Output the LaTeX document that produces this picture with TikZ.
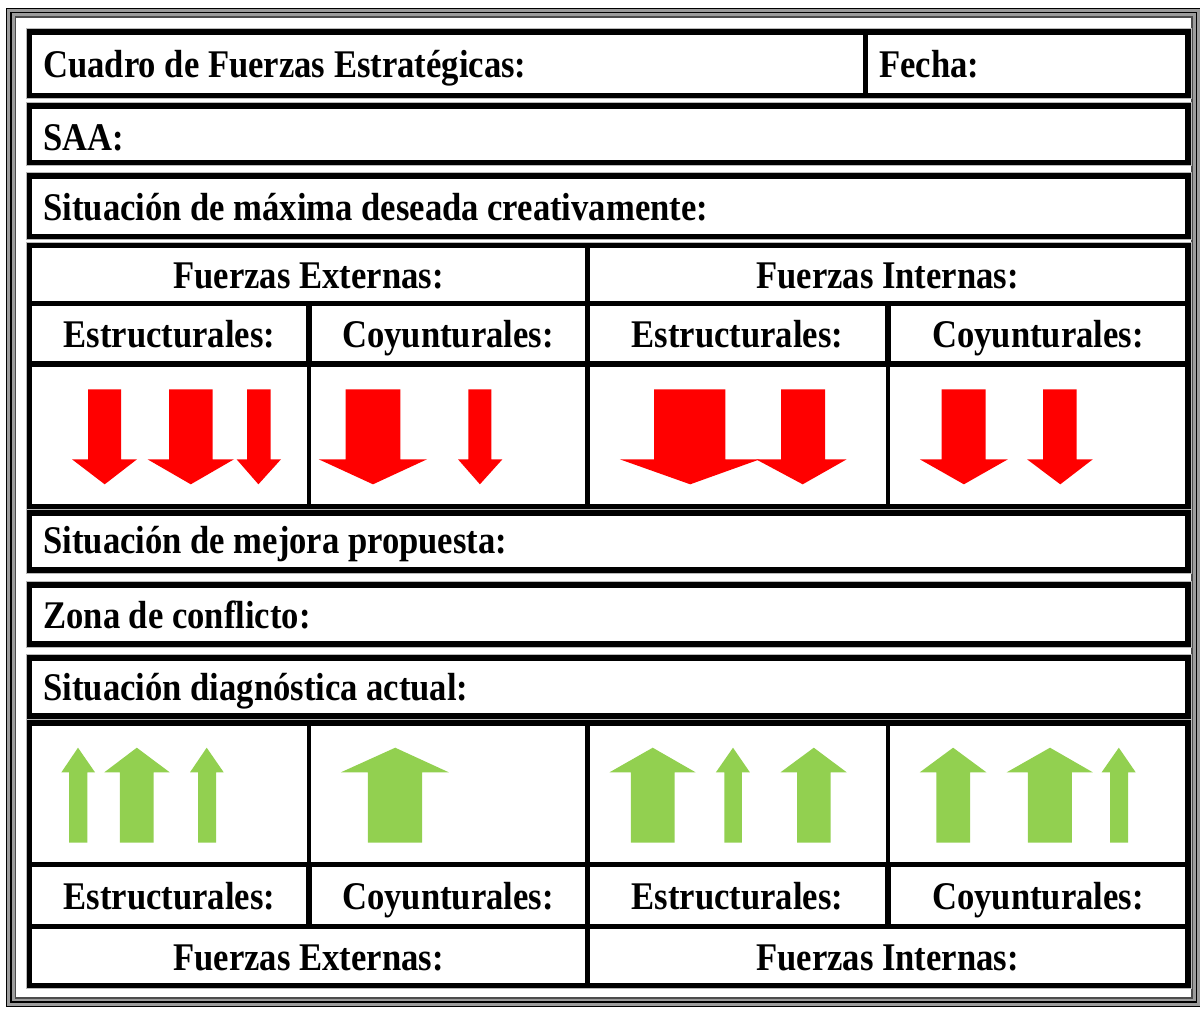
\documentclass[tikz,border=0pt]{standalone}
\usepackage{fontspec}
\setmainfont{Liberation Serif}[FakeStretch=0.883]
\usepackage{xcolor}
\definecolor{forcered}{HTML}{FF0000}
\definecolor{forcegreen}{HTML}{92D050}
\definecolor{framegray}{HTML}{9C9C9C}

\begin{document}
\begin{tikzpicture}[x=0.5pt,y=-0.5pt,
  box/.style={line width=2.75pt},
  cellrule/.style={line width=2pt},
  boxshade/.style={draw=gray!55,line width=0.5pt},
  formtext/.style={inner sep=0pt,font=\fontsize{19.6pt}{22pt}\selectfont\bfseries}]

\useasboundingbox (0,0) rectangle (1200,1008);

\draw[framegray,line width=5pt] (11,12.5) rectangle (1196.5,1002);
\draw[line width=0.7pt] (6.7,8.2) rectangle (1200.8,1006.3);
\draw[line width=0.7pt] (11,12.5) rectangle (1196.5,1002);
\draw[black!70,line width=0.8pt] (15.3,16.8) rectangle (1192.2,997.7);

\foreach \t/\b in {32/95.5,106/162.5,176/236.5,245.5/506.5,513/570,585/644,658/716,723/985.5} {
  \draw[boxshade] (26.2,\t-3.3) rectangle (1191.3,\b+3.3);
  \draw[box] (29.5,\t) rectangle (1188,\b);
}

\draw[box] (865.5,32) -- (865.5,95.5);

\draw[box] (29.5,303.5) -- (1188,303.5) (29.5,364) -- (1188,364);
\draw[box] (587.5,245.5) -- (587.5,506.5);
\draw[box] (309,303.5) -- (309,364) (888,303.5) -- (888,364);
\draw[cellrule] (309,364) -- (309,506.5) (888,364) -- (888,506.5);

\draw[box] (29.5,864.5) -- (1188,864.5) (29.5,926.5) -- (1188,926.5);
\draw[box] (587.5,723) -- (587.5,985.5);
\draw[cellrule] (309,723) -- (309,864.5) (888,723) -- (888,864.5);
\draw[box] (309,864.5) -- (309,926.5) (888,864.5) -- (888,926.5);

\node[formtext,anchor=base west] (title) at (43,77) {Cuadro de Fuerzas Estratégicas:};
\node[formtext,anchor=base west] (fecha) at (879,77) {Fecha:};
\node[formtext,anchor=base west] (saa) at (43,150) {SAA:};
\node[formtext,anchor=base west] (maxima) at (43,220) {Situación de máxima deseada creativamente:};

\node[formtext,anchor=base] (extA) at (308.5,288) {Fuerzas Externas:};
\node[formtext,anchor=base] (intA) at (887.5,288) {Fuerzas Internas:};
\node[formtext,anchor=base] (estA1) at (169.5,347) {Estructurales:};
\node[formtext,anchor=base] (coyA1) at (448,347) {Coyunturales:};
\node[formtext,anchor=base] (estA2) at (737.5,347) {Estructurales:};
\node[formtext,anchor=base] (coyA2) at (1038,347) {Coyunturales:};

\foreach \sl/\sr/\hl/\hr/\tx in {88/121/72/137/104.7,169/212.6/147.5/234/190.8,247/270.6/236.6/281/258.4,
    345.7/400.4/318.7/427/373,468.4/491.3/458/502.4/479.9,654.2/725.4/619.8/759.9/690.2,
    781/825/756/846.7/802.7,941.6/985.7/919.8/1007.9/963.9,1043/1076.7/1027/1092.8/1060.3}
  \fill[forcered] (\sl,389.3) -- (\sr,389.3) -- (\sr,459.3) -- (\hr,459.3) -- (\tx,484.3)
    -- (\hl,459.3) -- (\sl,459.3) -- cycle;

\node[formtext,anchor=base west] (mejora) at (43,553) {Situación de mejora propuesta:};
\node[formtext,anchor=base west] (conflicto) at (43,628) {Zona de conflicto:};
\node[formtext,anchor=base west] (diagnostico) at (43,700) {Situación diagnóstica actual:};

\foreach \sl/\sr/\hl/\hr/\tx in {69.2/87.3/61.4/95/78,119.8/153.5/104.3/169.7/136.8,198.2/216/190/223.7/206.7,
    367.9/422.2/340.9/448.8/395.2,630.9/674.5/609.5/695.6/652.7,724.3/741.9/715.9/749.9/733,
    797/830.7/780.5/846.7/813.8,936.3/970/919.8/986.4/953.1,1027.8/1071.8/1006.7/1092.8/1050,
    1110/1128/1101.6/1135.7/1118.8}
  \fill[forcegreen] (\sl,842.7) -- (\sr,842.7) -- (\sr,772.3) -- (\hr,772.3) -- (\tx,747.7)
    -- (\hl,772.3) -- (\sl,772.3) -- cycle;

\node[formtext,anchor=base] (estB1) at (169.5,909) {Estructurales:};
\node[formtext,anchor=base] (coyB1) at (448,909) {Coyunturales:};
\node[formtext,anchor=base] (estB2) at (737.5,909) {Estructurales:};
\node[formtext,anchor=base] (coyB2) at (1038,909) {Coyunturales:};
\node[formtext,anchor=base] (extB) at (308.5,970) {Fuerzas Externas:};
\node[formtext,anchor=base] (intB) at (887.5,970) {Fuerzas Internas:};

\end{tikzpicture}
\end{document}
